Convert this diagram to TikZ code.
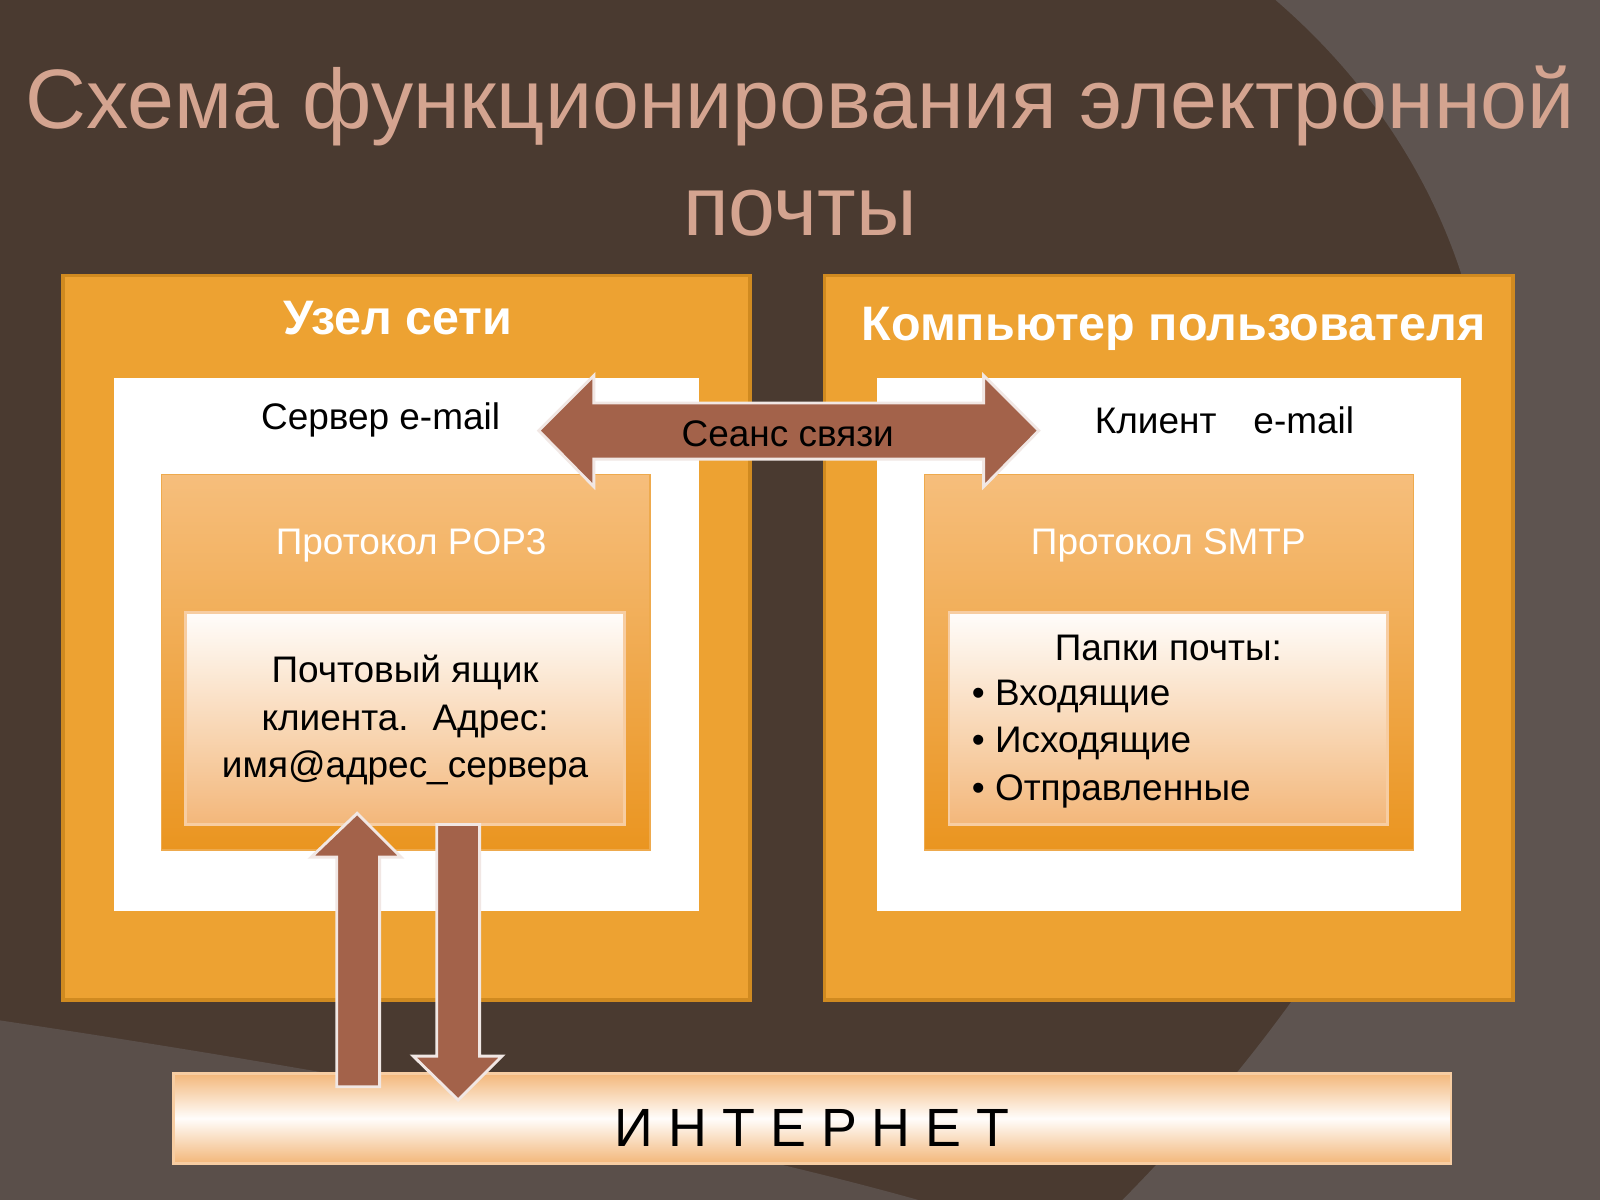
\documentclass[tikz,border=0pt]{standalone}
\usepackage{fontspec}
\setmainfont{Liberation Sans}
\usetikzlibrary{positioning}
\definecolor{bgdark}{HTML}{4A3A30}
\definecolor{bglight}{HTML}{5E5450}
\definecolor{titlecol}{HTML}{D4A490}
\definecolor{boxorange}{HTML}{EDA232}
\definecolor{boxedge}{HTML}{D08A20}
\definecolor{gradtop}{HTML}{F6BE7C}
\definecolor{gradbot}{HTML}{EA9520}
\definecolor{paletop}{HTML}{FFFDFB}
\definecolor{palebot}{HTML}{F3B77A}
\definecolor{arrowcol}{HTML}{A3624A}
\tikzset{
  outerbox/.style={fill=boxorange, draw=boxedge, line width=1pt},
  whitebox/.style={fill=white},
  protobox/.style={top color=gradtop, bottom color=gradbot, draw=gradbot!80!white},
  palebox/.style={top color=paletop, bottom color=palebot, draw=palebot!70!white, line width=0.8pt},
  blockarrow/.style={fill=arrowcol, draw=white!85!arrowcol, line width=0.8pt},
  label/.style={font=\fontsize{10.3}{13.2}\selectfont},
  heading/.style={white, font=\bfseries\fontsize{13.5}{16}\selectfont},
}
\begin{document}
\begin{tikzpicture}[x=0.01cm, y=-0.01cm]
    \useasboundingbox (0,0) rectangle (1568,1176);
    % background
    \fill[bgdark] (0,0) rectangle (1568,1176);
    \fill[bglight] (1568,0) -- (1250,0) .. controls (1540,250) and (1568,700) .. (1100,1176) -- (1568,1176) -- cycle;
    \fill[bglight!80!bgdark] (0,1176) -- (0,1000) .. controls (400,1060) and (700,1120) .. (900,1176) -- cycle;

    % title
    \node[titlecol, font=\fontsize{23.5}{30}\selectfont, align=center] (title) at (784,148)
        {Схема функционирования электронной\\почты};

    % left: network node
    \draw[outerbox] (62,270) rectangle (735,980);
    \node[heading] (node) at (390,312) {Узел сети};
    \fill[whitebox] (112,370) rectangle (685,893);
    \node[label] (server) at (373,412) {Сервер e-mail};
    \draw[protobox] (158,465) rectangle (637,833);
    \node[label, white] (pop) at (403,535) {Протокол POP3};
    \draw[palebox] (182,600) rectangle (612,808);
    \node[label, align=center] (mailbox) at (397,706)
        {Почтовый ящик\\клиента.~ Адрес:\\имя@адрес\_сервера};

    % right: user computer
    \draw[outerbox] (808,270) rectangle (1483,980);
    \node[heading] (computer) at (1150,322) {Компьютер пользователя};
    \fill[whitebox] (859,370) rectangle (1432,893);
    \node[label] (client) at (1200,412) {Клиент\quad e-mail};
    \draw[protobox] (906,465) rectangle (1385,833);
    \node[label, white] (smtp) at (1145,535) {Протокол SMTP};
    \draw[palebox] (930,600) rectangle (1360,808);
    \node[label] (folders) at (1145,635) {Папки почты:};
    \node[label, anchor=west, align=left] (list) at (940,729)
        {• Входящие\\• Исходящие\\• Отправленные};

    % session arrow
    \draw[blockarrow] (528,422) -- (582,368) -- (582,395) -- (964,395) -- (964,368)
        -- (1018,422) -- (964,477) -- (964,450) -- (582,450) -- (582,477) -- cycle;
    \node[label] (session) at (772,425) {Сеанс связи};

    % internet
    \draw[palebox, top color=palebot, bottom color=palebot, middle color=paletop] (170,1052) rectangle (1422,1140);
    \node[font=\fontsize{15}{18}\selectfont] (internet) at (796,1105) {И Н Т Е Р Н Е Т};

    % vertical arrows
    \draw[blockarrow] (330,1065) -- (330,840) -- (305,840) -- (350,797) -- (393,840)
        -- (372,840) -- (372,1065) -- cycle;
    \draw[blockarrow] (428,808) -- (470,808) -- (470,1035) -- (492,1035) -- (449,1078)
        -- (405,1035) -- (428,1035) -- cycle;
\end{tikzpicture}
\end{document}
